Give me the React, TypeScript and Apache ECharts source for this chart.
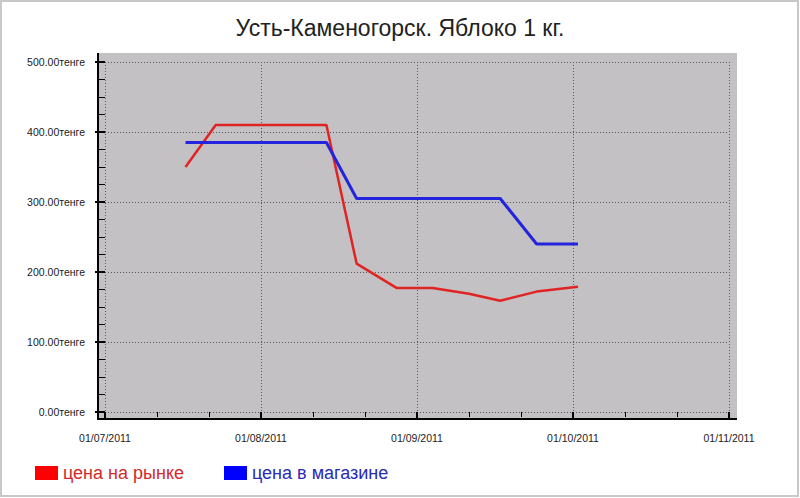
import React, { useEffect, useRef } from "react";
import * as echarts from "echarts";

// даты наблюдений и цены (тенге)
const dates = [
  "2011-07-17", "2011-07-23", "2011-07-31", "2011-08-07", "2011-08-14", "2011-08-20",
  "2011-08-28", "2011-09-04", "2011-09-11", "2011-09-17", "2011-09-24", "2011-10-02",
];
const marketPrice = [350, 410, 410, 410, 410, 212, 177, 177, 169, 159, 172, 179];
const shopPrice = [385, 385, 385, 385, 385, 305, 305, 305, 305, 305, 240, 240];
const monthLabels = ["01/07/2011", "01/08/2011", "01/09/2011", "01/10/2011", "01/11/2011"];
const seriesNames = ["цена на рынке", "цена в магазине"];

// позиция даты на оси в месяцах (0 = 01/07/2011)
const toMonthPos = (d: string) => {
  const [y, m, day] = d.split("-").map(Number);
  const dim = new Date(y, m, 0).getDate();
  return m - 7 + (day - 1) / dim;
};

const App = () => {
  const chartRef = useRef<HTMLDivElement | null>(null);

  useEffect(() => {
    if (!chartRef.current) return;
    const myChart = echarts.init(chartRef.current, null, { renderer: "svg" });

    const font = "'Liberation Sans', Arial, sans-serif";

    const option = {
      animation: false,
      backgroundColor: "#fff",
      title: {
        text: "Усть-Каменогорск. Яблоко 1 кг.",
        left: "center",
        top: 11,
        textStyle: { fontFamily: font, fontSize: 23, fontWeight: "normal", color: "#222" },
      },
      legend: {
        left: 30,
        top: 459,
        icon: "rect",
        itemWidth: 23,
        itemHeight: 14,
        itemGap: 40,
        textStyle: { fontFamily: font, fontSize: 18 },
        data: [
          { name: seriesNames[0], itemStyle: { color: "#ff0000" }, textStyle: { color: "#d22a2a" } },
          { name: seriesNames[1], itemStyle: { color: "#0000ff" }, textStyle: { color: "#2a2ab4" } },
        ],
      },
      graphic: [
        {
          type: "rect",
          z: -10,
          shape: { x: 98, y: 53, width: 639, height: 366 },
          style: { fill: "#c3c1c4" },
        },
        {
          type: "rect",
          z: -10,
          shape: { x: 1, y: 1, width: 797, height: 495 },
          style: { fill: "none", stroke: "#c8c8c8", lineWidth: 2 },
        },
        // рамка осей по краю серой области
        {
          type: "polyline",
          z: 10,
          shape: { points: [[98, 53], [98, 419], [737, 419]] },
          style: { fill: "none", stroke: "#000", lineWidth: 2 },
        },
      ],
      grid: {
        left: 105,
        right: 71,
        top: 62,
        bottom: 86,
      },
      xAxis: {
        type: "value",
        min: 0,
        max: 4,
        interval: 1,
        offset: 7,
        axisLine: { show: false },
        axisTick: { show: true, length: 8, lineStyle: { color: "#000", width: 2 } },
        minorTick: { show: true, splitNumber: 3, length: 5, lineStyle: { color: "#000", width: 1 } },
        axisLabel: {
          margin: 13,
          fontFamily: font,
          fontSize: 10.5,
          color: "#222",
          showMinLabel: true,
          showMaxLabel: true,
          formatter: (v: number) => monthLabels[Math.round(v)] ?? "",
        },
        splitLine: { show: true, lineStyle: { color: "#555", type: [1, 2], width: 1 } },
      },
      yAxis: {
        type: "value",
        min: 0,
        max: 500,
        interval: 100,
        offset: 7,
        axisLine: { show: false },
        axisTick: { show: true, length: 10, lineStyle: { color: "#000", width: 2 } },
        minorTick: { show: true, splitNumber: 4, length: 6, lineStyle: { color: "#000", width: 1 } },
        axisLabel: {
          margin: 13,
          fontFamily: font,
          fontSize: 10.5,
          color: "#1a1a1a",
          formatter: (v: number) => v.toFixed(2) + "тенге",
        },
        splitLine: { show: true, lineStyle: { color: "#555", type: [1, 2], width: 1 } },
      },
      series: [
        {
          name: seriesNames[0],
          type: "line",
          data: dates.map((d, i) => [toMonthPos(d), marketPrice[i]]),
          showSymbol: false,
          color: "#e02424",
          lineStyle: { color: "#e02424", width: 2.5 },
        },
        {
          name: seriesNames[1],
          type: "line",
          data: dates.map((d, i) => [toMonthPos(d), shopPrice[i]]),
          showSymbol: false,
          color: "#2424dc",
          lineStyle: { color: "#2424dc", width: 3 },
        },
      ],
    };

    myChart.setOption(option);

    return () => {
      myChart.dispose();
    };
  }, []);

  return (
    <div style={{ position: "fixed", left: 0, top: 0, width: 800, height: 498 }}>
      <div ref={chartRef} style={{ width: "800px", height: "498px" }}></div>
    </div>
  );
};

export default App;
